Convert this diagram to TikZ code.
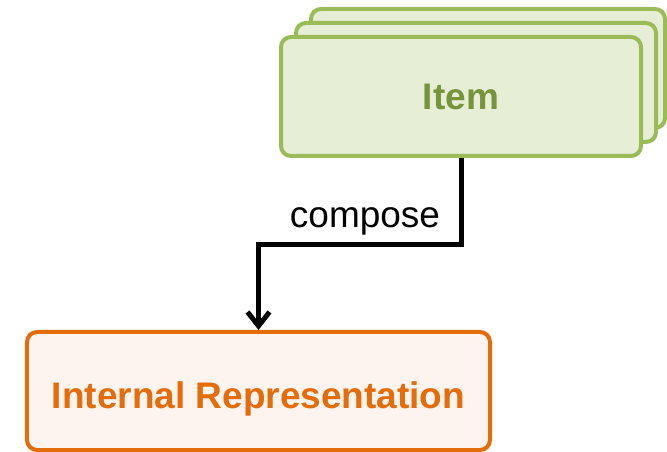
\documentclass[tikz,border=0pt]{standalone}
\usepackage{fontspec}
\setmainfont{Liberation Sans}
\usetikzlibrary{arrows.meta}
\definecolor{gline}{HTML}{9BBB59}
\definecolor{gfill}{HTML}{E6EED6}
\definecolor{gtext}{HTML}{77933C}
\definecolor{oline}{HTML}{E46C0A}
\definecolor{ofill}{HTML}{FDF4EF}
\tikzset{
  itembox/.style={draw=gline, fill=gfill, line width=4bp, rounded corners=10bp, inner sep=0pt, minimum height=119bp},
  irbox/.style={draw=oline, fill=ofill, line width=4bp, rounded corners=10bp, inner sep=0pt, minimum width=463bp, minimum height=118bp},
  conn/.style={draw=black, line width=5bp, -{Straight Barb[length=14bp,width=22bp,line width=5bp]}},
  lbl/.style={font=\fontsize{37bp}{40bp}\selectfont, inner sep=0pt}
}
\begin{document}
\begin{tikzpicture}[x=1bp,y=-1bp]
\useasboundingbox (0,0) rectangle (667,452);
\node[itembox, minimum width=354bp] (back) at (488,68.5) {};
\node[itembox, minimum width=360bp] (mid) at (476,82.5) {};
\node[itembox, minimum width=360bp, lbl, text=gtext, font=\fontsize{37bp}{40bp}\selectfont\bfseries, text height=27bp, text depth=0pt] (item) at (461,96.5) {Item};
\node[irbox, lbl, text=oline, font=\fontsize{37bp}{40bp}\selectfont\bfseries, text height=34bp, text depth=0pt] (ir) at (258.5,391) {Internal Representation};
\coordinate (turn) at (461,245);
\draw[conn] (item.south) -- (turn) -| (ir.north);
\node[lbl, anchor=base] (compose) at (365,228) {compose};
\end{tikzpicture}
\end{document}
